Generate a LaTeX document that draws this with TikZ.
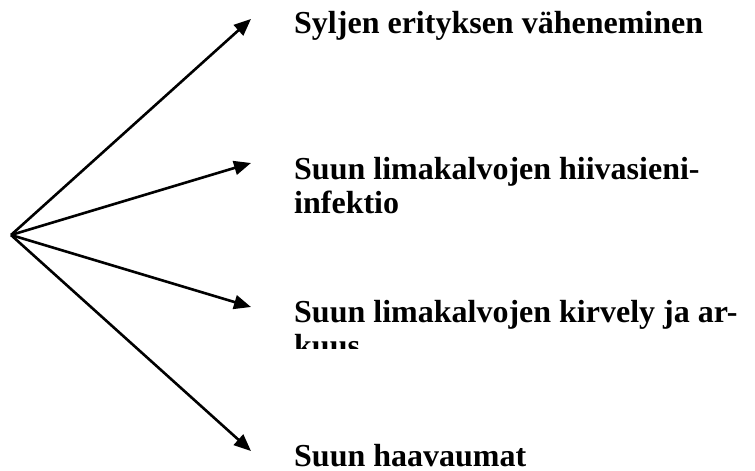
\documentclass[tikz,border=0pt]{standalone}
\usepackage{fontspec}
\setmainfont{Liberation Serif}
\usetikzlibrary{arrows.meta}
\begin{document}
\begin{tikzpicture}[x=1pt,y=-1pt,
  ray/.style={line width=2.6pt,-{Triangle[length=17pt,width=14pt]}},
  label/.style={anchor=base west,inner sep=0pt,
    font=\fontsize{32}{35}\selectfont\bfseries}]
  \useasboundingbox (0,0) rectangle (755,471);
  % common start point and arrow tips
  \coordinate (o) at (11,235);
  \coordinate (t1) at (251,19);
  \coordinate (t2) at (251,163);
  \coordinate (t3) at (251,307);
  \coordinate (t4) at (251,451);
  \draw[ray] (o) -- (t1);
  \draw[ray] (o) -- (t2);
  \draw[ray] (o) -- (t3);
  \draw[ray] (o) -- (t4);
  % effect labels, one node per printed line
  \node[label] (l1) at (294,33) {Syljen erityksen väheneminen};
  \node[label] (l2a) at (294,179) {Suun limakalvojen hiivasieni-};
  \node[label] (l2b) at (294,213.5) {infektio};
  \node[label] (l3a) at (294,322) {Suun limakalvojen kirvely ja ar-};
  \begin{scope}
    \clip (280,330) rectangle (755,348.5);
    \node[label] (l3b) at (294,356.5) {kuus};
  \end{scope}
  \node[label,text depth=0pt] (l4) at (294,466) {Suun haavaumat};
\end{tikzpicture}
\end{document}
